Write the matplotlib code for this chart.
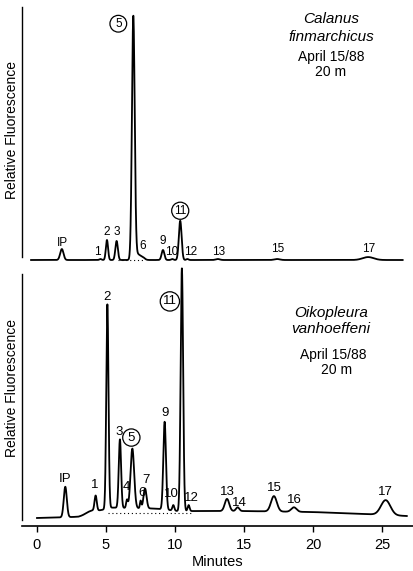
import matplotlib.pyplot as plt
import numpy as np

plt.rcParams['font.family'] = ['Liberation Sans', 'DejaVu Sans']

W, H = 414, 571

# Calanus finmarchicus: peak label, retention time (min), height, width (min)
cal_labels = ['IP', '1', '2', '3', '5', '', '6', '9', '10', '11', '12', '13', '15', '17']
cal_time = [1.80, 4.60, 5.07, 5.77, 6.98, 7.25, 7.66, 9.13, 9.80, 10.38, 10.90, 13.10, 17.40, 24.00]
cal_height = [4.5, 0.4, 8.2, 7.8, 99.0, 2.5, 0.9, 4.1, 0.4, 16.1, 0.4, 0.4, 0.4, 1.2]
cal_sigma = [0.12, 0.08, 0.08, 0.09, 0.10, 0.22, 0.15, 0.10, 0.08, 0.10, 0.08, 0.15, 0.20, 0.40]
cal_circled = ['5', '11']

# Oikopleura vanhoeffeni
oik_labels = ['IP', '', '1', '2', '3', '4', '5', '6', '7', '9', '10', '11', '12',
              '13', '14', '15', '16', '17']
oik_time = [2.05, 3.90, 4.25, 5.10, 6.01, 6.52, 6.91, 7.51, 7.83, 9.25, 9.88, 10.50, 10.99,
            13.77, 14.54, 17.17, 18.62, 25.27]
oik_height = [12.3, 1.2, 6.0, 82.3, 27.6, 3.2, 24.0, 3.0, 8.0, 35.4, 2.2, 97.9, 2.4,
              4.9, 1.5, 6.2, 1.8, 6.0]
oik_sigma = [0.11, 0.35, 0.08, 0.08, 0.085, 0.06, 0.13, 0.05, 0.11, 0.095, 0.07, 0.09, 0.07,
             0.16, 0.12, 0.21, 0.19, 0.34]
oik_circled = ['5', '11']
# baseline drift of the Oikopleura trace
oik_base_t = [0, 1.5, 3.0, 3.8, 4.6, 5.3, 8.6, 9.6, 10.2, 11.5, 15.0, 20.0, 23.0, 26.8]
oik_base_v = [0, 0.2, 0.5, 1.5, 3.0, 4.2, 3.8, 3.2, 2.8, 2.8, 2.8, 2.4, 1.8, 0.8]

ticks = [0, 5, 10, 15, 20, 25]

# label offsets from the peak apex (pixels)
cal_off = {'IP': (1, 6), '1': (-3, 7), '2': (0, 8), '3': (0, 9), '5': (-15, -8),
           '6': (0, 11), '9': (0, 9), '10': (-1, 7), '11': (0, 10), '12': (3, 7),
           '13': (1, 7), '15': (1, 10), '17': (1, 8)}
oik_off = {'IP': (0, 8), '1': (-1, 11), '2': (0, 7), '3': (-1, 7), '4': (-1, 12),
           '5': (-1, 11), '6': (1, 8), '7': (1, 9), '9': (0, 9), '10': (-2, 11),
           '11': (-12, -33), '12': (3, 7), '13': (0, 7), '14': (2, 4), '15': (0, 8),
           '16': (0, 7), '17': (0, 8)}


def trace(t, times, heights, sigmas):
    y = np.zeros_like(t)
    for t0, h, s in zip(times, heights, sigmas):
        y += h * np.exp(-0.5 * ((t - t0) / s) ** 2)
    return y


def px_axes(left, top, right, bottom):
    return fig.add_axes([left / W, 1 - bottom / H, (right - left) / W, (bottom - top) / H])


def label_peaks(ax, t, y, labels, times, offsets, circled, size):
    for lab, t0 in zip(labels, times):
        if not lab:
            continue
        v = np.interp(t0, t, y)
        kw = {}
        if lab in circled:
            kw['bbox'] = dict(boxstyle='circle,pad=0.2', fc='none', ec='black', lw=0.9)
        ax.annotate(lab, (t0, v), xytext=offsets[lab], textcoords='offset pixels',
                    ha='center', va='center', fontsize=size, annotation_clip=False, **kw)


fig = plt.figure(figsize=(W / 100, H / 100), dpi=100)
xlim = (-1.087, 27.25)

# top panel
ax1 = px_axes(22, 7, 413, 262)
t1 = np.linspace(-0.43, 26.5, 4000)
y1 = trace(t1, cal_time, cal_height, cal_sigma)
ax1.plot(t1, y1, color='black', lw=1.3, clip_on=False)
ax1.plot([5.9, 7.8], [0, 0], color='black', lw=0.8, ls=(0, (1, 2.5)))
ax1.set_xlim(*xlim)
ax1.set_ylim(-0.82, 103.7)
ax1.spines['left'].set_bounds(1.2, 103.7)
label_peaks(ax1, t1, y1, cal_labels, cal_time, cal_off, cal_circled, 8.5)

# bottom panel
ax2 = px_axes(22, 274, 413, 526)
t2 = np.linspace(0, 26.8, 4000)
y2 = np.interp(t2, oik_base_t, oik_base_v) + trace(t2, oik_time, oik_height, oik_sigma)
ax2.plot(t2, y2, color='black', lw=1.3, clip_on=False)
ax2.plot([5.15, 11.3], [2.0, 2.0], color='black', lw=0.8, ls=(0, (1, 2.5)))
ax2.set_xlim(*xlim)
ax2.set_ylim(-3.23, 98.4)
ax2.spines['left'].set_bounds(-0.8, 98.4)
label_peaks(ax2, t2, y2, oik_labels, oik_time, oik_off, oik_circled, 9.5)

for ax in (ax1, ax2):
    for side in ('top', 'right'):
        ax.spines[side].set_visible(False)
    ax.spines['left'].set_linewidth(1.0)
    ax.set_yticks([])
    ax.patch.set_alpha(0)
ax1.spines['bottom'].set_visible(False)
ax1.set_xticks([])
ax2.spines['bottom'].set_linewidth(1.2)
ax2.set_xticks(ticks)
ax2.tick_params(axis='x', direction='out', length=4.5, width=1.0, pad=4, labelsize=10.5)
ax2.set_xlabel('Minutes', fontsize=10.5, labelpad=2.5)


def ftext(x, y, s, **kw):
    fig.text(x / W, 1 - y / H, s, ha='center', va='center', **kw)


ftext(12, 130, 'Relative Fluorescence', rotation=90, fontsize=10)
ftext(12, 388, 'Relative Fluorescence', rotation=90, fontsize=10)

ftext(331, 19, 'Calanus', style='italic', fontsize=11)
ftext(331, 37, 'finmarchicus', style='italic', fontsize=11)
ftext(331, 57, 'April 15/88', fontsize=10)
ftext(331, 72, '20 m', fontsize=10)

ftext(331, 313, 'Oikopleura', style='italic', fontsize=11)
ftext(331, 329, 'vanhoeffeni', style='italic', fontsize=11)
ftext(333, 355, 'April 15/88', fontsize=10)
ftext(337, 370, '20 m', fontsize=10)

fig.savefig('out.png', dpi=100)
